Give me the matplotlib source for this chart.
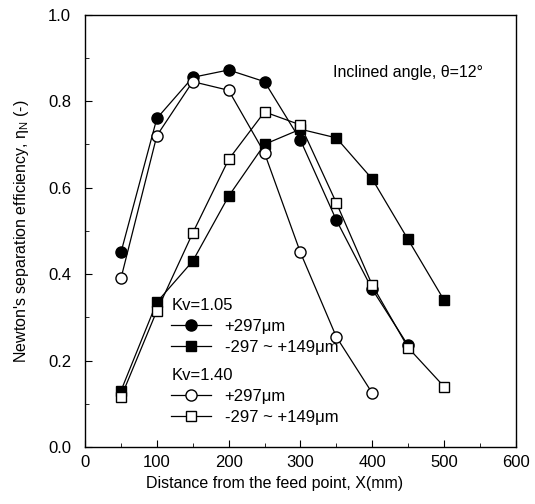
import matplotlib
matplotlib.use("Agg")
import matplotlib.pyplot as plt

plt.rcParams['font.family'] = ['Liberation Sans', 'DejaVu Sans']

x_kv105_coarse = [50, 100, 150, 200, 250, 300, 350, 400, 450]
y_kv105_coarse = [0.45, 0.76, 0.855, 0.872, 0.845, 0.71, 0.525, 0.365, 0.235]

x_kv105_fine = [50, 100, 150, 200, 250, 300, 350, 400, 450, 500]
y_kv105_fine = [0.13, 0.335, 0.43, 0.58, 0.70, 0.735, 0.715, 0.62, 0.48, 0.34]

x_kv140_coarse = [50, 100, 150, 200, 250, 300, 350, 400]
y_kv140_coarse = [0.39, 0.72, 0.845, 0.825, 0.68, 0.45, 0.255, 0.125]

x_kv140_fine = [50, 100, 150, 200, 250, 300, 350, 400, 450, 500]
y_kv140_fine = [0.115, 0.315, 0.495, 0.665, 0.775, 0.745, 0.565, 0.375, 0.23, 0.14]

labels = ["+297\u03bcm", "-297 ~ +149\u03bcm"]

fig = plt.figure(figsize=(5.35, 5.04), dpi=100)
ax = fig.add_axes([0.159, 0.113, 0.805, 0.858])

lw = 0.9
ms = 8
l1, = ax.plot(x_kv105_coarse, y_kv105_coarse, '-o', color='black', mfc='black', mec='black', lw=lw, ms=ms, zorder=3)
l2, = ax.plot(x_kv105_fine, y_kv105_fine, '-s', color='black', mfc='black', mec='black', lw=lw, ms=7, zorder=3)
l3, = ax.plot(x_kv140_coarse, y_kv140_coarse, '-o', color='black', mfc='white', mec='black', lw=lw, ms=ms, zorder=4)
l4, = ax.plot(x_kv140_fine, y_kv140_fine, '-s', color='black', mfc='white', mec='black', lw=lw, ms=7, zorder=4)

ax.set_xlim(0, 600)
ax.set_ylim(0, 1.0)
ax.set_xticks([0, 100, 200, 300, 400, 500, 600])
ax.set_yticks([0.0, 0.2, 0.4, 0.6, 0.8, 1.0])
ax.set_yticklabels(['0.0', '0.2', '0.4', '0.6', '0.8', '1.0'])
ax.set_xticks([50, 150, 250, 350, 450, 550], minor=True)
ax.set_yticks([0.1, 0.3, 0.5, 0.7, 0.9], minor=True)
ax.tick_params(direction='in', which='both', top=False, right=False, labelsize=12)
ax.tick_params(axis='y', which='major', pad=10)
ax.tick_params(axis='x', which='major', pad=6)
ax.tick_params(which='major', length=5)
ax.tick_params(which='minor', length=3)
for s in ax.spines.values():
    s.set_linewidth(1.0)

ax.set_xlabel('Distance from the feed point, X(mm)', fontsize=11.5, labelpad=4)
ax.xaxis.label.set_x(0.44)
ax.set_ylabel("Newton's separation efficiency, $\\mathregular{\\eta_N}$ (-)", fontsize=11.5, labelpad=12)

ax.text(345, 0.867, 'Inclined angle, \u03b8=12\u00b0', fontsize=11.5, va='center', ha='left')

common = dict(loc='upper left', frameon=False, fontsize=12, title_fontsize=12,
              handlelength=2.4, handletextpad=0.8, labelspacing=0.35,
              borderaxespad=0, borderpad=0, alignment='left')
leg1 = ax.legend([l1, l2], labels, title='Kv=1.05', bbox_to_anchor=(0.2, 0.345), **common)
ax.add_artist(leg1)
leg2 = ax.legend([l3, l4], labels, title='Kv=1.40', bbox_to_anchor=(0.2, 0.183), **common)

fig.savefig('out.png', dpi=100)
